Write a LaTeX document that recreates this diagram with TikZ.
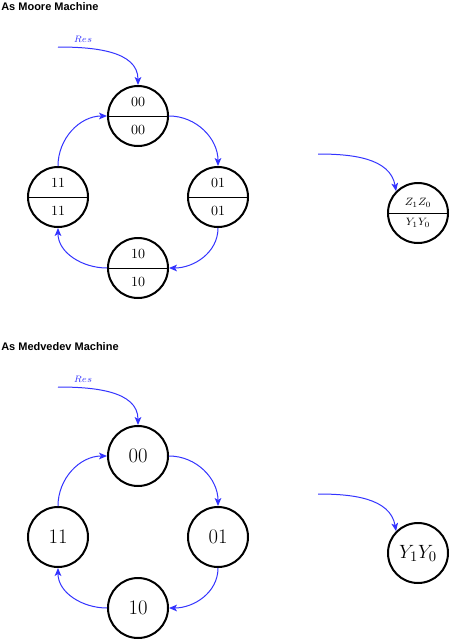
\documentclass[tikz,border=0pt]{standalone}
\usepackage{fontspec}
\newfontfamily\headfont{Liberation Sans}
\usetikzlibrary{arrows.meta}
\definecolor{resblue}{RGB}{51,51,255}

\begin{document}
\begin{tikzpicture}[x=0.75pt,y=0.75pt,
  heading/.style={anchor=base west, inner sep=0pt, font=\headfont\bfseries\fontsize{8.25}{10}\selectfont},
  moore/.style={draw, circle, line width=1.5pt, minimum size=45pt, align=center,
    font=\fontsize{10.5}{20.8}\selectfont,
    path picture={\draw[line width=0.75pt] (path picture bounding box.west) -- (path picture bounding box.east);}},
  medvedev/.style={draw, circle, line width=1.5pt, minimum size=45pt, font=\fontsize{15.5}{18}\selectfont},
  trans/.style={draw=resblue, line width=0.75pt, -{Stealth[length=6pt,width=5pt,inset=1.5pt]}},
  reslabel/.style={anchor=base, inner sep=0pt, text=resblue, font=\fontsize{7.5}{9}\selectfont}]
\useasboundingbox (0,0) rectangle (450,-640);

\node[heading] (moore) at (1,-10.5) {As Moore Machine};
\node[moore] (m00) at (138,-116) {00\\00};
\node[moore] (m01) at (218,-197) {01\\01};
\node[moore] (m10) at (138,-268) {10\\10};
\node[moore] (m11) at (58,-197) {11\\11};
\node[moore, font=\fontsize{8.5}{15}\selectfont] (mkey) at (418,-213) {$Z_1Z_0$\\$Y_1Y_0$};
\coordinate (mres) at (58,-47);
\coordinate (mkeyin) at (318,-154);
\node[reslabel] (mreslabel) at (83,-42.7) {$Res$};
\draw[trans] (mres) to[out=0,in=90] (m00.north);
\draw[trans] (m00.east) to[out=0,in=90] (m01.north);
\draw[trans] (m01.south) to[out=270,in=0] (m10.east);
\draw[trans] (m10.west) to[out=180,in=270] (m11.south);
\draw[trans] (m11.north) to[out=90,in=180] (m00.west);
\draw[trans] (mkeyin) to[out=0,in=100] (mkey.135);

\node[heading] (medv) at (1,-350.5) {As Medvedev Machine};
\node[medvedev] (d00) at (138,-456) {00};
\node[medvedev] (d01) at (218,-537) {01};
\node[medvedev] (d10) at (138,-608) {10};
\node[medvedev] (d11) at (58,-537) {11};
\node[medvedev] (dkey) at (418,-553) {$Y_1Y_0$};
\coordinate (dres) at (58,-387);
\coordinate (dkeyin) at (318,-494);
\node[reslabel] (dreslabel) at (83,-382.7) {$Res$};
\draw[trans] (dres) to[out=0,in=90] (d00.north);
\draw[trans] (d00.east) to[out=0,in=90] (d01.north);
\draw[trans] (d01.south) to[out=270,in=0] (d10.east);
\draw[trans] (d10.west) to[out=180,in=270] (d11.south);
\draw[trans] (d11.north) to[out=90,in=180] (d00.west);
\draw[trans] (dkeyin) to[out=0,in=100] (dkey.135);
\end{tikzpicture}
\end{document}
